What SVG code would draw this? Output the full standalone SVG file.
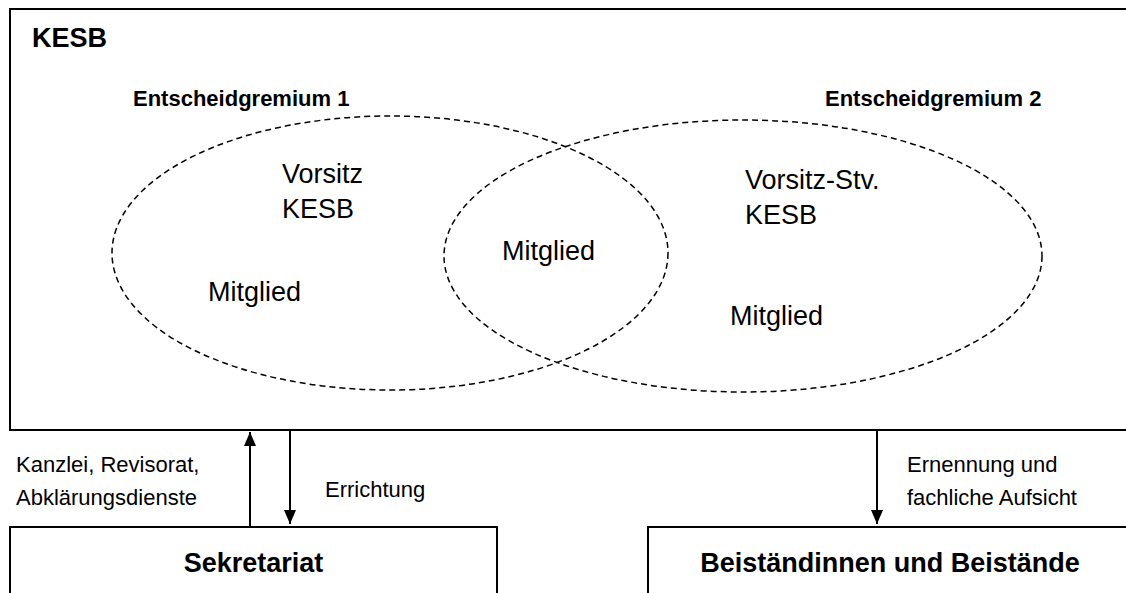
<svg xmlns="http://www.w3.org/2000/svg" width="1126" height="593" viewBox="0 0 1126 593">
<style>
.box{fill:#fff;stroke:#000;stroke-width:2}
.ell{fill:none;stroke:#000;stroke-width:1.5;stroke-dasharray:6 4}
.t{font-family:"Liberation Sans",Arial,sans-serif;fill:#000}
.big{font-size:27px}
.b{font-weight:bold}
.mid{font-size:22px}
.con{stroke:#000;stroke-width:2;fill:none}
</style>
<defs>
<marker id="ah" viewBox="0 0 14 12" refX="14" refY="6" markerWidth="14" markerHeight="12" markerUnits="userSpaceOnUse" orient="auto">
<path d="M0,0 L14,6 L0,12 Z" fill="#000"/>
</marker>
</defs>
<g id="kesb">
<rect class="box" x="10" y="9" width="1130" height="421"/>
<text class="t big b" x="32" y="47">KESB</text>
</g>
<g id="gremium1">
<ellipse class="ell" cx="390" cy="253" rx="278" ry="137"/>
<text class="t mid b" x="133" y="106">Entscheidgremium 1</text>
<text class="t big" x="282" y="183">Vorsitz</text>
<text class="t big" x="282" y="218">KESB</text>
<text class="t big" x="208" y="301">Mitglied</text>
</g>
<g id="gremium2">
<ellipse class="ell" cx="743" cy="256" rx="299" ry="136"/>
<text class="t mid b" x="825" y="106">Entscheidgremium 2</text>
<text class="t big" x="745" y="189">Vorsitz-Stv.</text>
<text class="t big" x="745" y="224">KESB</text>
<text class="t big" x="730" y="325">Mitglied</text>
</g>
<g id="gemeinsam">
<text class="t big" x="502" y="260">Mitglied</text>
</g>
<g id="sekretariat">
<rect class="box" x="10" y="527" width="487" height="100"/>
<text class="t big b" x="253.5" y="572" text-anchor="middle">Sekretariat</text>
</g>
<g id="beistaende">
<rect class="box" x="648" y="527" width="484" height="100"/>
<text class="t big b" x="890" y="572" text-anchor="middle">Beiständinnen und Beistände</text>
</g>
<g id="connectors">
<line class="con" x1="250" y1="527" x2="250" y2="432" marker-end="url(#ah)"/>
<line class="con" x1="290" y1="431" x2="290" y2="524" marker-end="url(#ah)"/>
<line class="con" x1="877" y1="431" x2="877" y2="524" marker-end="url(#ah)"/>
<text class="t mid" x="16" y="472">Kanzlei, Revisorat,</text>
<text class="t mid" x="16" y="505">Abklärungsdienste</text>
<text class="t mid" x="325" y="497">Errichtung</text>
<text class="t mid" x="907" y="472">Ernennung und</text>
<text class="t mid" x="907" y="505">fachliche Aufsicht</text>
</g>
</svg>
